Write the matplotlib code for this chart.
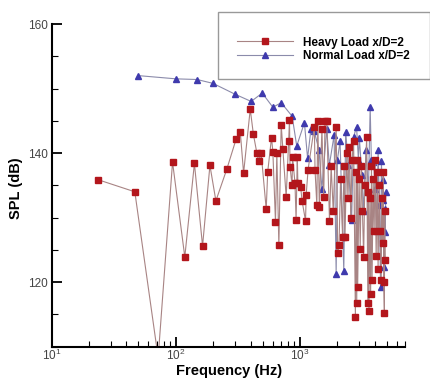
import matplotlib
matplotlib.use("Agg")
import matplotlib.pyplot as plt
from matplotlib.ticker import LogLocator, MultipleLocator
from matplotlib.patches import Rectangle

plt.rcParams["font.family"] = ["Liberation Sans", "DejaVu Sans"]

# Heavy load x/D=2 (red squares)
freq_heavy = [23.4, 46.7, 72, 94, 118, 141, 164, 188, 210, 257, 306, 330, 351,
              397, 421, 449, 465, 486, 534, 549, 589, 604, 634, 650, 675, 705,
              727, 773, 810, 822, 830, 862, 870, 910, 929, 950, 960, 1010, 1040,
              1107, 1120, 1160, 1303, 1320, 1365, 1390, 1430, 1500, 1550, 1590,
              1640, 1726, 1780, 1850, 1953, 2010, 2060, 2120, 2200, 2260, 2300,
              2380, 2430, 2500, 2560, 2620, 2700, 2790, 2830, 2860, 2900, 2910,
              2990, 3050, 3120, 3180, 3250, 3320, 3440, 3515, 3550, 3590, 3650,
              3700, 3760, 3800, 3880, 3950, 4020, 4100, 4180, 4250, 4330, 4400,
              4500, 4560, 4620, 4680, 4720, 4775, 4800, 4850]
spl_heavy = [135.9, 134.0, 108.3, 138.6, 123.9, 138.4, 125.6, 138.1, 132.6, 137.5,
             142.2, 143.3, 136.9, 146.8, 142.9, 140.0, 138.7, 140.0, 131.3, 137.1,
             142.4, 140.2, 129.3, 140.0, 125.7, 144.4, 140.6, 133.2, 141.9, 145.2,
             137.9, 135.0, 139.4, 135.4, 129.6, 139.4, 135.4, 134.8, 132.5, 129.5,
             133.5, 137.4, 144.1, 137.4, 131.9, 145.0, 131.6, 143.8, 133.2, 144.9,
             144.9, 129.5, 138.0, 131.0, 144.1, 124.5, 125.8, 136.0, 127.0, 138.0,
             127.0, 140.0, 133.0, 141.0, 130.0, 139.0, 141.8, 114.6, 137.0, 116.7,
             139.0, 119.3, 136.0, 125.2, 138.0, 131.0, 123.9, 135.0, 142.5, 116.7,
             134.0, 115.5, 133.0, 118.1, 138.0, 120.3, 136.0, 128.0, 139.0, 124.0,
             137.0, 122.0, 135.0, 128.0, 120.3, 133.0, 126.0, 137.0, 120.0, 115.2,
             131.0, 123.4]

# Normal load x/D=2 (blue triangles)
freq_normal = [50, 100.6, 148, 199, 301, 404, 496, 604, 705, 864, 940, 1084, 1150,
               1225, 1300, 1420, 1500, 1640, 1720, 1880, 1953, 2000, 2100, 2250,
               2330, 2450, 2600, 2700, 2850, 2950, 3000, 3150, 3250, 3400, 3550,
               3670, 3750, 3900, 4050, 4150, 4250, 4350, 4450, 4520, 4620, 4680,
               4720, 4790, 4850, 4900]
spl_normal = [152.0, 151.5, 151.4, 150.8, 149.1, 148.0, 149.3, 147.1, 147.8, 145.7,
              141.1, 144.7, 139.2, 143.8, 143.4, 140.5, 134.5, 143.8, 138.1, 142.8,
              121.3, 139.0, 141.8, 121.8, 143.3, 138.1, 129.6, 142.5, 144.1, 139.0,
              142.4, 136.6, 131.0, 140.5, 134.0, 147.1, 139.0, 138.6, 134.4, 128.0,
              140.5, 132.0, 119.3, 138.7, 132.7, 135.8, 122.4, 131.3, 127.7, 134.0]

labels = ["Heavy Load x/D=2", "Normal Load x/D=2"]

fig = plt.figure(figsize=(4.31, 3.78), dpi=100)
ax = fig.add_axes([51.7 / 431, 1 - 346.7 / 378, (405 - 51.7) / 431, (346.7 - 24) / 378])

l_norm, = ax.plot(freq_normal, spl_normal, color="#8b8bab", lw=0.8, marker="^",
                  ms=5, mfc="#3f3aad", mec="#3f3aad")
l_heavy, = ax.plot(freq_heavy, spl_heavy, color="#a88484", lw=0.8, marker="s",
                   ms=4.2, mfc="#b3161c", mec="#b3161c")

ax.set_xscale("log")
ax.set_xlim(10, 7000)
ax.set_ylim(110, 160)
ax.yaxis.set_major_locator(MultipleLocator(20))
ax.yaxis.set_minor_locator(MultipleLocator(5))
ax.xaxis.set_major_locator(LogLocator(base=10))
ax.xaxis.set_minor_locator(LogLocator(base=10, subs=range(2, 10)))

for s in ["top", "right"]:
    ax.spines[s].set_visible(False)
for s in ["left", "bottom"]:
    ax.spines[s].set_linewidth(1.5)

ax.tick_params(which="major", direction="in", length=7, width=1.3,
               labelsize=8.5, labelcolor="#444444", pad=3)
ax.tick_params(which="minor", direction="in", length=4, width=0.8)
ax.tick_params(axis="x", which="major", pad=1)

ax.set_xlabel("Frequency (Hz)", fontsize=10.5, fontweight="bold", va="center")
ax.xaxis.set_label_coords(0.502, -0.074)
ax.set_ylabel("SPL (dB)", fontsize=10.5, fontweight="bold", va="center")
ax.yaxis.set_label_coords(-0.1, 0.49)

# legend box
fig.patches.append(Rectangle((218 / 431, 1 - 79 / 378), 212 / 431, 67 / 378,
                             transform=fig.transFigure, facecolor="white",
                             edgecolor="#999999", lw=1.0, zorder=5))
leg = fig.legend([l_heavy, l_norm], labels, loc="center left",
                 bbox_to_anchor=(237 / 431, 1 - 49.5 / 378), frameon=False,
                 prop={"weight": "bold", "size": 8.5}, handlelength=4.75,
                 handletextpad=0.85, borderpad=0, borderaxespad=0,
                 labelspacing=0.15)
leg.set_zorder(6)

fig.savefig("out.png", dpi=100)
